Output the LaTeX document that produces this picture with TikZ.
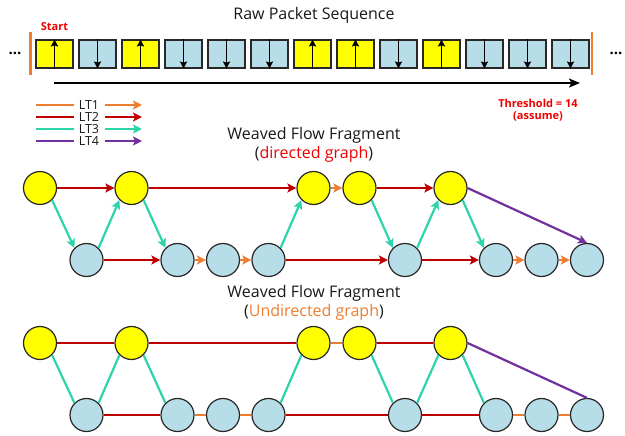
\documentclass[tikz,border=0pt]{standalone}
\usepackage{fontspec}
\setmainfont{Open Sans}
\usetikzlibrary{arrows.meta}
\definecolor{cyel}{RGB}{255,255,0}
\definecolor{cblue}{RGB}{183,221,232}
\definecolor{corange}{RGB}{237,125,49}
\definecolor{cred}{RGB}{192,0,0}
\definecolor{cteal}{RGB}{44,212,170}
\definecolor{cpurple}{RGB}{112,48,160}
\definecolor{cborder}{RGB}{40,40,40}
\definecolor{ctxtred}{RGB}{238,0,0}
\begin{document}
\begin{tikzpicture}[x=1pt,y=-1pt,
  pkt/.style={draw=cborder, line width=1.2pt, minimum width=37pt, minimum height=28pt, inner sep=0pt},
  ypkt/.style={pkt, fill=cyel},
  bpkt/.style={pkt, fill=cblue},
  yparr/.style={line width=1.7pt, {Stealth[length=7pt,width=7pt,inset=1pt]}-},
  bparr/.style={line width=1.7pt, -{Stealth[length=7pt,width=7pt,inset=1pt]}},
  gnode/.style={circle, draw=cborder, line width=1.2pt, minimum size=33pt, inner sep=0pt},
  ynode/.style={gnode, fill=cyel},
  bnode/.style={gnode, fill=cblue},
  edg/.style={line width=2.2pt},
  arr/.style={edg, -{Stealth[length=9pt,width=9pt,inset=2pt]}},
  lt1/.style={corange},
  lt2/.style={cred},
  lt3/.style={cteal},
  lt4/.style={cpurple},
  title/.style={font=\fontsize{16}{16}\selectfont, text=black!90},
  small/.style={font=\fontsize{11}{12}\selectfont\bfseries, text=ctxtred},
  legtxt/.style={font=\fontsize{12.5}{12}\selectfont, text=black!90, inner sep=0pt},
  legln/.style={line width=2.8pt},
  legarr/.style={legln, -{Stealth[length=9pt,width=9pt,inset=2pt]}},
  bar/.style={corange, line width=2.5pt},
  dots/.style={font=\fontsize{15}{15}\selectfont\bfseries, inner sep=0pt}
]
\useasboundingbox (0,0) rectangle (625,436);

% ---------- Raw packet sequence ----------
\node[title] (t1) at (314,15) {Raw Packet Sequence};
\node[small, inner sep=0pt] (start) at (54.5,27) {Start};
\foreach \i/\t in {1/y,2/b,3/y,4/b,5/b,6/b,7/y,8/y,9/b,10/y,11/b,12/b,13/b}{
  \node[\t pkt] (p\i) at ({54.5+43*(\i-1)},54) {};
  \draw[\t parr] (p\i.north) -- (p\i.south);
}
\coordinate (barLt) at (30.5,32);
\coordinate (barLb) at (30.5,75);
\coordinate (barRt) at (592,32);
\coordinate (barRb) at (592,75);
\draw[bar] (barLt) -- (barLb);
\draw[bar] (barRt) -- (barRb);
\node[dots] (dotsL) at (15,53) {...};
\node[dots] (dotsR) at (616,53) {...};
\coordinate (seqA) at (54,83);
\coordinate (seqB) at (580,83);
\draw[line width=1.8pt, -{Stealth[length=11pt,width=9pt,inset=2.5pt]}] (seqA) -- (seqB);
\node[small, align=center, inner sep=0pt] (thr) at (538,110) {Threshold = 14\\(assume)};

% ---------- Legend ----------
\foreach \k/\y in {1/105,2/117,3/129,4/141}{
  \node[legtxt] (lg\k) at (89,\y) {LT\k};
  \coordinate (la\k) at (36,\y);
  \coordinate (lb\k) at (74,\y);
  \coordinate (lc\k) at (105,\y);
  \coordinate (ld\k) at (142,\y);
  \draw[legln, lt\k] (la\k) -- (lb\k);
  \draw[legarr, lt\k] (lc\k) -- (ld\k);
}

% ---------- Directed graph ----------
\node[title] (t2) at (314,135) {Weaved Flow Fragment};
\node[title] (t2b) at (314,154) {(\textcolor{ctxtred}{directed graph})};

\node[ynode] (dT1) at (40,188) {};
\node[ynode] (dT2) at (131.5,188) {};
\node[ynode] (dT3) at (313.5,188) {};
\node[ynode] (dT4) at (359.5,188) {};
\node[ynode] (dT5) at (450.5,188) {};
\node[bnode] (dB1) at (86.5,260) {};
\node[bnode] (dB2) at (177.5,260) {};
\node[bnode] (dB3) at (223,260) {};
\node[bnode] (dB4) at (268.5,260) {};
\node[bnode] (dB5) at (405,260) {};
\node[bnode] (dB6) at (496,260) {};
\node[bnode] (dB7) at (541.5,260) {};
\node[bnode] (dB8) at (587,260) {};

\draw[arr, lt2] (dT1.east) -- (dT2.west);
\draw[arr, lt2] (dT2.east) -- (dT3.west);
\draw[arr, lt1] (dT3.east) -- (dT4.west);
\draw[arr, lt2] (dT4.east) -- (dT5.west);
\draw[arr, lt2] (dB1.east) -- (dB2.west);
\draw[arr, lt1] (dB2.east) -- (dB3.west);
\draw[arr, lt1] (dB3.east) -- (dB4.west);
\draw[arr, lt2] (dB4.east) -- (dB5.west);
\draw[arr, lt2] (dB5.east) -- (dB6.west);
\draw[arr, lt1] (dB6.east) -- (dB7.west);
\draw[arr, lt1] (dB7.east) -- (dB8.west);
\draw[arr, lt3] (dT1.south east) -- (dB1.north west);
\draw[arr, lt3] (dB1.north east) -- (dT2.south west);
\draw[arr, lt3] (dT2.south east) -- (dB2.north west);
\draw[arr, lt3] (dB4.north east) -- (dT3.south west);
\draw[arr, lt3] (dT4.south east) -- (dB5.north west);
\draw[arr, lt3] (dB5.north east) -- (dT5.south west);
\draw[arr, lt3] (dT5.south east) -- (dB6.north west);
\draw[arr, lt4] (dT5.east) -- (dB8.north);

% ---------- Undirected graph ----------
\node[title] (t3) at (314,293) {Weaved Flow Fragment};
\node[title] (t3b) at (314,312) {(\textcolor{corange}{Undirected graph})};

\node[ynode] (uT1) at (40,343) {};
\node[ynode] (uT2) at (131.5,343) {};
\node[ynode] (uT3) at (313.5,343) {};
\node[ynode] (uT4) at (359.5,343) {};
\node[ynode] (uT5) at (450.5,343) {};
\node[bnode] (uB1) at (86.5,415) {};
\node[bnode] (uB2) at (177.5,415) {};
\node[bnode] (uB3) at (223,415) {};
\node[bnode] (uB4) at (268.5,415) {};
\node[bnode] (uB5) at (405,415) {};
\node[bnode] (uB6) at (496,415) {};
\node[bnode] (uB7) at (541.5,415) {};
\node[bnode] (uB8) at (587,415) {};

\draw[edg, lt2] (uT1.east) -- (uT2.west);
\draw[edg, lt2] (uT2.east) -- (uT3.west);
\draw[edg, lt1] (uT3.east) -- (uT4.west);
\draw[edg, lt2] (uT4.east) -- (uT5.west);
\draw[edg, lt2] (uB1.east) -- (uB2.west);
\draw[edg, lt1] (uB2.east) -- (uB3.west);
\draw[edg, lt1] (uB3.east) -- (uB4.west);
\draw[edg, lt2] (uB4.east) -- (uB5.west);
\draw[edg, lt2] (uB5.east) -- (uB6.west);
\draw[edg, lt1] (uB6.east) -- (uB7.west);
\draw[edg, lt1] (uB7.east) -- (uB8.west);
\draw[edg, lt3] (uT1.south east) -- (uB1.north west);
\draw[edg, lt3] (uB1.north east) -- (uT2.south west);
\draw[edg, lt3] (uT2.south east) -- (uB2.north west);
\draw[edg, lt3] (uB4.north east) -- (uT3.south west);
\draw[edg, lt3] (uT4.south east) -- (uB5.north west);
\draw[edg, lt3] (uB5.north east) -- (uT5.south west);
\draw[edg, lt3] (uT5.south east) -- (uB6.north west);
\draw[edg, lt4] (uT5.east) -- (uB8.north);
\end{tikzpicture}
\end{document}
